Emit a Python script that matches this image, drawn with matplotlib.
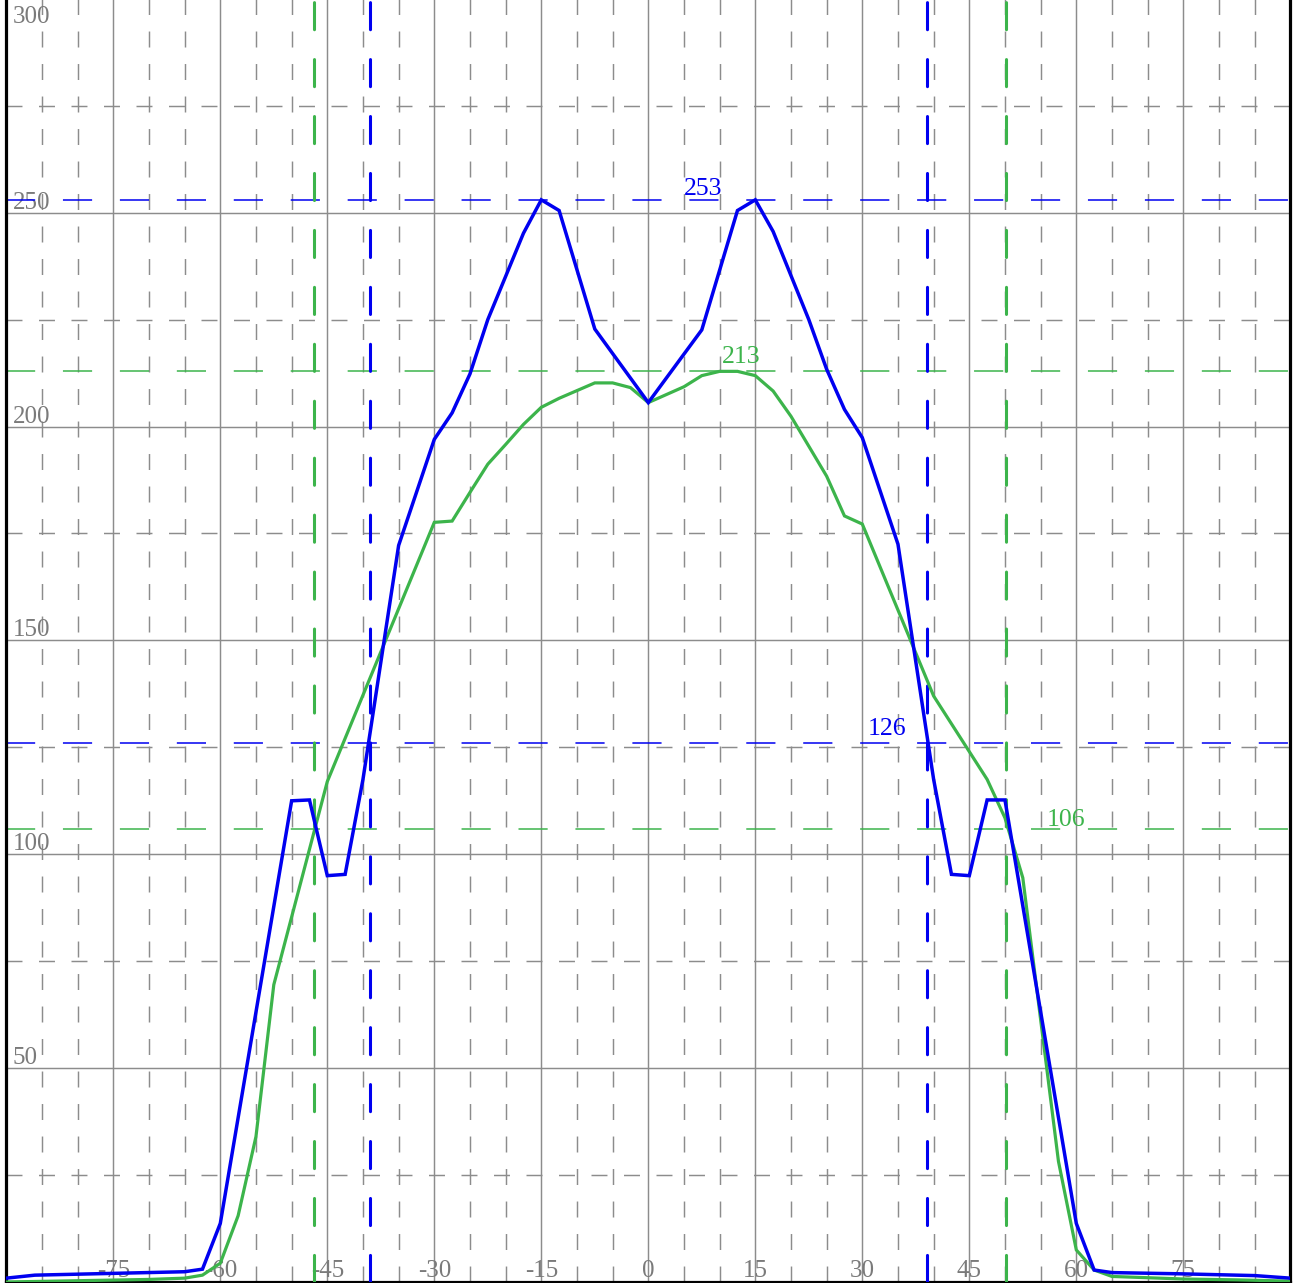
import matplotlib
matplotlib.use('Agg')
import matplotlib.pyplot as plt
from matplotlib.ticker import MultipleLocator

plt.rcParams['lines.scale_dashes'] = False
plt.rcParams['font.family'] = ['Liberation Serif', 'DejaVu Serif']

# ---------------- data ----------------
blue_x = [-90, -86, -65, -62.5, -60, -50, -47.5, -45, -42.5, -40, -35, -30, -27.5,
          -25, -22.5, -17.5, -15, -12.5, -7.5, 0, 7.5, 12.5, 15, 17.5, 22.5, 25,
          27.5, 30, 35, 40, 42.5, 45, 47.5, 50, 60, 62.5, 65, 75, 85, 90]
blue_y = [0.9, 1.6, 2.4, 3.0, 13.7, 112.5, 112.7, 95.0, 95.3, 117.5, 172.2, 197.0,
          203.2, 212.3, 225.0, 245.2, 253.0, 250.5, 222.8, 205.6, 222.6, 250.5, 253.0,
          245.6, 225.0, 213.4, 204.0, 197.4, 172.5, 117.5, 95.3, 95.0, 112.7, 112.7,
          13.7, 2.8, 2.2, 1.9, 1.5, 0.9]

green_x = [-90, -80, -70, -65, -62.5, -60, -57.5, -55, -52.5, -45, -30, -27.5, -25,
           -22.5, -20, -17.5, -15, -12.5, -7.5, -5, -2.5, 0, 5, 7.5, 10, 12.5, 15,
           17.5, 20, 22.5, 25, 27.5, 30, 40, 45, 47.5, 50, 52.5, 57.5, 60, 62.5, 65,
           75, 82.5, 90]
green_y = [0.0, 0.3, 0.6, 0.9, 1.6, 4.4, 15.5, 34.0, 69.5, 117.0, 177.6, 177.9, 184.6,
           191.2, 195.8, 200.5, 204.5, 206.6, 210.2, 210.2, 209.1, 205.6, 209.3, 211.9,
           212.9, 212.9, 211.9, 208.3, 202.4, 195.4, 188.4, 179.1, 177.2, 137.0, 124.0,
           117.5, 108.5, 94.5, 28.2, 7.5, 2.8, 1.3, 0.7, 0.5, 0.2]

blue_max, blue_half = 253, 126
green_max, green_half = 213, 106
blue_edges = [-39.0, 39.0]
green_edges = [-46.8, 50.1]

x_tick_labels = [-75, -60, -45, -30, -15, 0, 15, 30, 45, 60, 75]
y_tick_labels = [50, 100, 150, 200, 250, 300]

BLUE = '#0000f0'
GREEN = '#3cb44b'
GRID = '#8c8c8c'
LABEL = '#7a7a7a'

# ---------------- figure ----------------
fig = plt.figure(figsize=(13.04, 12.83), dpi=100)
ax = fig.add_axes([6.3 / 1304, 1.0 / 1283, 1284 / 1304, 1283.2 / 1283])
ax.set_xlim(-90, 90)
ax.set_ylim(0, 300)

ax.xaxis.set_major_locator(MultipleLocator(15))
ax.xaxis.set_minor_locator(MultipleLocator(5))
ax.yaxis.set_major_locator(MultipleLocator(50))
ax.yaxis.set_minor_locator(MultipleLocator(25))
ax.grid(which='major', color=GRID, lw=1.05, ls='-')
ax.grid(which='minor', color=GRID, lw=1.05, ls=(0, (11.5, 11.9)))
ax.tick_params(which='both', length=0, labelbottom=False, labelleft=False)
ax.set_axisbelow(True)

for s in ['left', 'bottom', 'right']:
    ax.spines[s].set_color('black')
    ax.spines[s].set_linewidth(2.3)
ax.spines['top'].set_visible(False)

# tick labels drawn inside the plot area
for v in x_tick_labels:
    ax.annotate(str(v), xy=(v, 0), xycoords=('data', 'axes fraction'),
                xytext=(0, 4.7), textcoords='offset pixels', ha='center',
                va='baseline', fontsize=18, color=LABEL, zorder=1)
for v in y_tick_labels:
    dy = -24.5 if v == 300 else 4
    ax.annotate(str(v), xy=(0, v), xycoords=('axes fraction', 'data'),
                xytext=(6.5, dy), textcoords='offset pixels', ha='left',
                va='baseline', fontsize=18, color=LABEL, zorder=1)

# reference lines
hdash = (0, (21.0, 20.0))
ax.axhline(blue_max, color=BLUE, lw=1.1, ls=hdash, zorder=2)
ax.axhline(blue_half, color=BLUE, lw=1.1, ls=hdash, zorder=2)
ax.axhline(green_max, color=GREEN, lw=1.1, ls=hdash, zorder=2)
ax.axhline(green_half, color=GREEN, lw=1.1, ls=hdash, zorder=2)

vdash = (0, (19.5, 21.5))
for e in green_edges:
    ax.axvline(e, color=GREEN, lw=2.2, ls=vdash, dash_capstyle='round', zorder=3)
for e in blue_edges:
    ax.axvline(e, color=BLUE, lw=2.2, ls=vdash, dash_capstyle='round', zorder=3)

# curves
ax.plot(green_x, green_y, color=GREEN, lw=2.3, zorder=4, solid_joinstyle='miter')
ax.plot(blue_x, blue_y, color=BLUE, lw=2.5, zorder=5, solid_joinstyle='miter')

# value annotations
ax.text(5.0, 254.1, str(blue_max), color=BLUE, fontsize=18.5, ha='left', va='baseline', zorder=6)
ax.text(10.3, 214.8, str(green_max), color=GREEN, fontsize=18.5, ha='left', va='baseline', zorder=6)
ax.text(30.8, 127.9, str(blue_half), color=BLUE, fontsize=18.5, ha='left', va='baseline', zorder=6)
ax.text(55.9, 106.5, str(green_half), color=GREEN, fontsize=18.5, ha='left', va='baseline', zorder=6)

fig.savefig('out.png', dpi=100, facecolor='white')
